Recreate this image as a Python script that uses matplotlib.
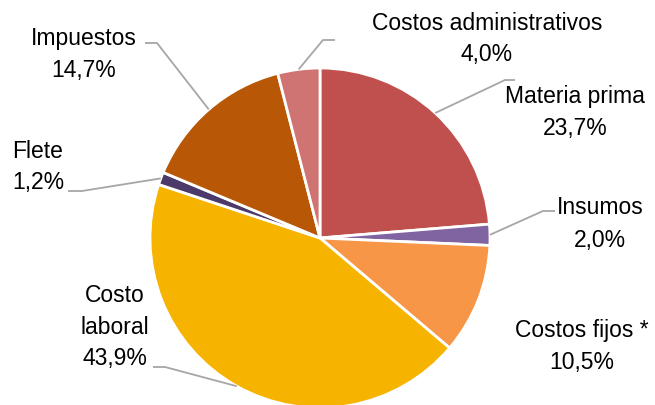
import numpy as np
import matplotlib.pyplot as plt

# cost breakdown, clockwise from 12 o'clock
categories = ['Materia prima', 'Insumos', 'Costos fijos *', 'Costo laboral',
              'Flete', 'Impuestos', 'Costos administrativos']
label_text = ['Materia prima', 'Insumos', 'Costos fijos *', 'Costo\nlaboral',
              'Flete', 'Impuestos', 'Costos administrativos']
shares = [23.7, 2.0, 10.5, 43.9, 1.2, 14.7, 4.0]
colors = ['#C0504D', '#8064A2', '#F79646', '#F6B400', '#4B3A6A', '#B85706', '#CF7472']

plt.rcParams['font.family'] = ['Liberation Sans', 'DejaVu Sans']

W, H = 655, 405
CX, CY, R = 320, 238, 170


def px(x, y):
    # pixel position (y down) -> data units around the pie
    return (x - CX) / R, (CY - y) / R


fig = plt.figure(figsize=(W / 100, H / 100), dpi=100)
ax = fig.add_axes([0, 0, 1, 1])

wedges, _ = ax.pie(shares, colors=colors, startangle=90, counterclock=False,
                   wedgeprops=dict(edgecolor='white', linewidth=2))
ax.set_xlim(-CX / R, (W - CX) / R)
ax.set_ylim(-(H - CY) / R, CY / R)
ax.set_aspect('equal')
ax.axis('off')

# label block centres (pixels) and leader elbows (None = no leader)
label_pos = [(575, 113), (600, 224), (582, 347), (115, 327), (38, 167), (84, 54), (487, 39)]
elbows = [[(505, 80), (515, 80)],
          [(543, 211), (555, 211)],
          None,
          [(165, 367), (153, 367)],
          [(82, 191), (68, 191)],
          [(157, 43), (145, 43)],
          [(323, 40), (335, 40)]]

for w, name, pct, pos, elb in zip(wedges, label_text, shares, label_pos, elbows):
    txt = name + '\n' + f'{pct:.1f}'.replace('.', ',') + '%'
    x, y = px(*pos)
    ax.text(x, y, txt, ha='center', va='center', multialignment='center',
            fontsize=16.5, linespacing=1.5, color='black')
    if elb is None:
        continue
    mid = np.deg2rad((w.theta1 + w.theta2) / 2)
    xs = [np.cos(mid)] + [px(*p)[0] for p in elb]
    ys = [np.sin(mid)] + [px(*p)[1] for p in elb]
    ax.plot(xs, ys, color='#A6A6A6', linewidth=1.3, solid_capstyle='butt')

fig.savefig('out.png', dpi=100)
